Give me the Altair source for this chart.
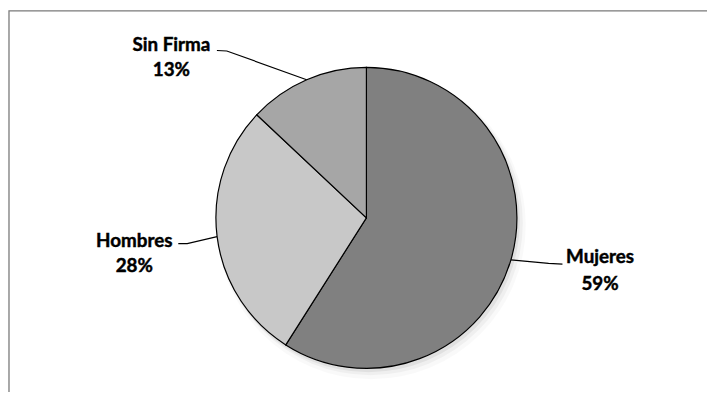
import altair as alt
import pandas as pd
import numpy as np

# ---- data ----
categories = ["Mujeres", "Hombres", "Sin Firma"]
values = [59, 28, 13]
pct_labels = ["59%", "28%", "13%"]
colors = ["#808080", "#c8c8c8", "#a6a6a6"]

# ---- layout (pixels in the view) ----
W, H = 706, 384
DX = 3
CX, CY, R = 359 + DX, 210, 152
name_pos = [(598.0, 256), (127.5, 239), (165.0, 41.5)]
pct_pos = [(598.0, 282.5), (127.5, 264.5), (165.0, 67.0)]
elbow_pos = [(546, 256), (181, 236), (221, 41.5)]
end_pos = [(560, 256.7), (172, 236), (211, 41)]

df = pd.DataFrame({
    "cat": categories,
    "value": values,
    "order": list(range(len(categories))),
    "pct": pct_labels,
    "nx": [p[0] for p in name_pos],
    "ny": [p[1] for p in name_pos],
    "px": [p[0] for p in pct_pos],
    "py": [p[1] for p in pct_pos],
})

# leader lines: start on the pie edge at each slice's mid angle
vals = np.array(values, dtype=float)
cum = np.cumsum(vals) / vals.sum()
mid = (cum - vals / vals.sum() / 2) * 2 * np.pi
rows = []
for i, c in enumerate(categories):
    ex = CX + R * np.sin(mid[i])
    ey = CY - R * np.cos(mid[i])
    pts = [(ex, ey), elbow_pos[i], end_pos[i]]
    for k, (x, y) in enumerate(pts):
        rows.append({"cat": c, "k": k, "x": x, "y": y})
lines = pd.DataFrame(rows)

xs = alt.X("x:Q", scale=None, axis=None)
ys = alt.Y("y:Q", scale=None, axis=None)

frame = alt.Chart(pd.DataFrame({"a": [0]})).mark_rect(
    fill=None, stroke="#7a7a7a", strokeWidth=1.3
).encode(x=alt.value(1), y=alt.value(1), x2=alt.value(W + 50), y2=alt.value(H + 50))

shadow_specs = [(5, 7, R + 4, 0.025), (4, 5, R + 2, 0.04), (2, 3, R + 1, 0.06)]
shadows = []
for sdx, sdy, rr, op in shadow_specs:
    shadows.append(
        alt.Chart(pd.DataFrame({"a": [0]})).mark_arc(
            fill="black", opacity=op, radius=rr
        ).encode(
            x=alt.value(CX + sdx), y=alt.value(CY + sdy),
            theta=alt.value(0), theta2=alt.value(2 * np.pi),
        )
    )

pie = alt.Chart(df).mark_arc(radius=R, stroke="black", strokeWidth=1.2).encode(
    theta=alt.Theta("value:Q", stack=True),
    order=alt.Order("order:Q"),
    color=alt.Color("cat:N", scale=alt.Scale(domain=categories, range=colors), legend=None),
    x=alt.value(CX), y=alt.value(CY),
)

leader = alt.Chart(lines).mark_line(color="black", strokeWidth=1.2).encode(
    x=xs, y=ys, detail="cat:N", order="k:Q"
)

text_props = dict(font="Lato", fontWeight="bold", fontSize=19, color="black",
                  stroke="black", strokeWidth=0.45,
                  align="center", baseline="alphabetic")
names = alt.Chart(df).mark_text(**text_props).encode(
    x=alt.X("nx:Q", scale=None, axis=None), y=alt.Y("ny:Q", scale=None, axis=None), text="cat:N"
)
pcts = alt.Chart(df).mark_text(**text_props).encode(
    x=alt.X("px:Q", scale=None, axis=None), y=alt.Y("py:Q", scale=None, axis=None), text="pct:N"
)

chart = alt.layer(frame, *shadows, pie, leader, names, pcts).properties(
    width=W, height=H, padding=0, autosize=alt.AutoSizeParams(type="none")
).configure_view(stroke=None)

chart.save("out.html", embed_options={"renderer": "svg", "actions": False})
